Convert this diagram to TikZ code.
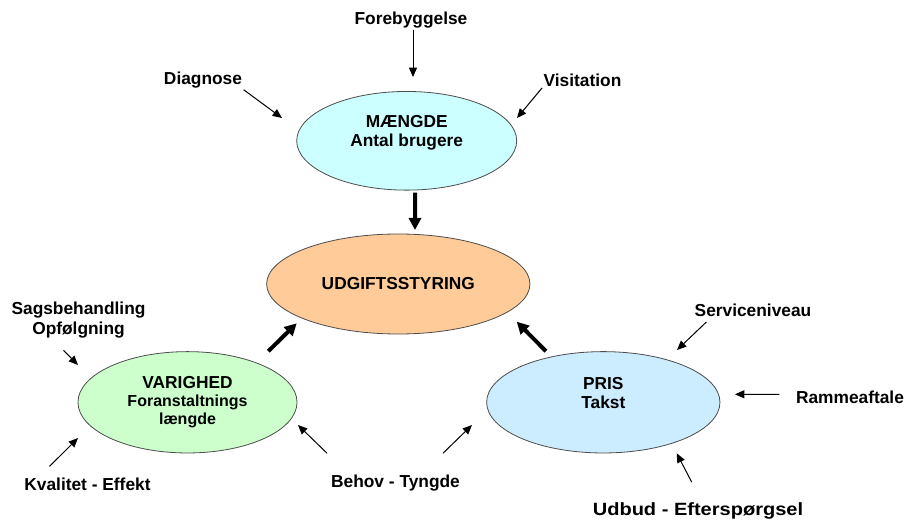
\documentclass[tikz,border=0pt]{standalone}
\usepackage{fontspec}
\setmainfont{Liberation Sans}
\newfontfamily\widesans{Liberation Sans}[FakeStretch=1.13]
\usetikzlibrary{arrows.meta,shapes.geometric}
\definecolor{mcyan}{RGB}{204,255,255}
\definecolor{upeach}{RGB}{255,204,153}
\definecolor{vgreen}{RGB}{204,255,204}
\definecolor{pblue}{RGB}{204,236,255}

\begin{document}
\begin{tikzpicture}[x=0.75pt,y=-0.75pt,font=\bfseries\fontsize{13}{14.5}\selectfont,line join=round,
  blob/.style={ellipse,draw=black!70,line width=0.6pt,inner sep=0pt,align=center},
  lbl/.style={inner sep=1pt,align=center},
  feed/.style={-{Triangle[length=7pt,width=6pt]},line width=0.75pt},
  push/.style={-{Triangle[length=9pt,width=9pt]},line width=3pt}]
\useasboundingbox (0,0) rectangle (907,520);
\node[blob,fill=mcyan,minimum width=165pt,minimum height=74pt] (mengde) at (406.7,140.8) {MÆNGDE\\Antal brugere\\\mbox{}};
\node[blob,fill=upeach,minimum width=197.5pt,minimum height=75pt] (udg) at (398.3,284) {UDGIFTSSTYRING};
\node[blob,fill=vgreen,minimum width=164.3pt,minimum height=76pt] (varig) at (187.5,402.3) {VARIGHED\\[-1pt]{\fontsize{12}{14}\selectfont Foranstaltnings}\\[-1pt]{\fontsize{12}{14}\selectfont længde}};
\node[blob,fill=pblue,minimum width=175pt,minimum height=76pt] (pris) at (603.3,402.3) {PRIS\\Takst\\\mbox{}};
\node[lbl] (fore) at (411,20) {Forebyggelse};
\node[lbl] (diag) at (203,80) {Diagnose};
\node[lbl] (visit) at (582.5,80) {Visitation};
\node[lbl] (sags) at (78.5,320) {Sagsbehandling\\Opfølgning};
\node[lbl] (kval) at (87.5,484) {Kvalitet - Effekt};
\node[lbl] (behov) at (395.5,483) {Behov - Tyngde};
\node[lbl] (serv) at (753,310) {Serviceniveau};
\node[lbl] (ramme) at (850,397) {Rammeaftale};
\node[lbl,font=\widesans\bfseries\fontsize{13.3}{15}\selectfont] (udbud) at (698,511) {Udbud - Efterspørgsel};
\coordinate (ftip) at (413,77);
\coordinate (dtip) at (282,118);
\coordinate (vtip) at (517,118);
\coordinate (stip) at (78,365);
\coordinate (ktip) at (78,438);
\coordinate (bltip) at (298,425);
\coordinate (brtip) at (472,425);
\coordinate (setip) at (677,350);
\coordinate (rtip) at (735,394.3);
\coordinate (utip) at (676.7,453.3);
\coordinate (mtip) at (415,230);
\coordinate (vatip) at (296.7,323.3);
\coordinate (ptip) at (516.7,321.7);
\draw[feed] (fore.south -| ftip) -- (ftip);
\draw[feed] (diag.south east) -- (dtip);
\draw[feed] (visit.south west) -- (vtip);
\draw[feed] ([shift={(-15,11)}]sags.south) -- (stip);
\draw[feed] ([shift={(-38,-9.6)}]kval.north) -- (ktip);
\draw[feed] ([shift={(-2.5,-20)}]behov.north west) -- (bltip);
\draw[feed] ([shift={(-18.5,-20)}]behov.north east) -- (brtip);
\draw[feed] ([shift={(13.3,4)}]serv.south west) -- (setip);
\draw[feed] ([shift={(-15,-2.7)}]ramme.west) -- (rtip);
\draw[feed] ([shift={(-6.3,-19)}]udbud.north) -- (utip);
\draw[push] ([shift={(8.3,2)}]mengde.south) -- (mtip);
\draw[push] ([shift={(80.8,0)}]varig.north) -- (vatip);
\draw[push] ([shift={(-57.3,0)}]pris.north) -- (ptip);
\end{tikzpicture}
\end{document}
